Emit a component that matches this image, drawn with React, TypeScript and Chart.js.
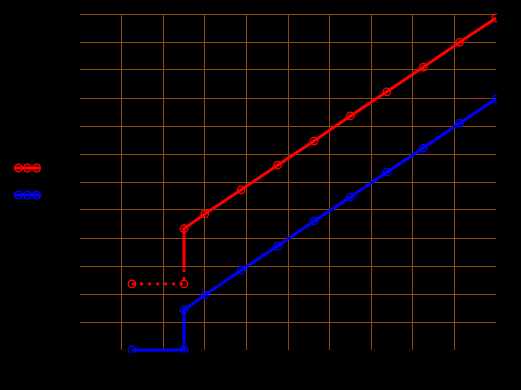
import React, { useEffect, useRef } from "react";
import { Chart, registerables } from "chart.js";

Chart.register(...registerables);

// Red series, dotted lead-in part
const redDottedX = [1.25, 2.5, 2.5];
const redDottedY = [2.36, 2.36, 2.93];
const redDottedMarks = [1, 1, 0];

// Red series, solid part
const redX = [2.5, 2.5, 3, 3.875, 4.75, 5.625, 6.5, 7.375, 8.25, 9.125, 10];
const redY = [2.93, 4.33, 4.86, 5.72, 6.6, 7.46, 8.36, 9.22, 10.1, 10.99, 11.86];
const redMarks = [0, 1, 1, 1, 1, 1, 1, 1, 1, 1, 1];

// Blue series
const blueX = [1.25, 2.5, 2.5, 3, 3.875, 4.75, 5.625, 6.5, 7.375, 8.25, 9.125, 10];
const blueY = [0, 0, 1.43, 1.96, 2.85, 3.71, 4.6, 5.46, 6.35, 7.21, 8.1, 8.96];

// Axes
const xTicks = [0, 1, 2, 3, 4, 5, 6, 7, 8, 9, 10];
const yTicks = [0, 1, 2, 3, 4, 5, 6, 7, 8, 9, 10, 11, 12];

const seriesLabels = ["Series 1", "Series 2"];

const RED = "#ff0000";
const BLUE = "#0000ff";
const GRID = "#8f4a0a";
const CLEAR = "rgba(0,0,0,0)";

const toPts = (xs: number[], ys: number[]) => xs.map((x, i) => ({ x, y: ys[i] }));

const bgPlugin = {
  id: "bg",
  beforeDraw(chart: any) {
    const ctx = chart.ctx;
    ctx.save();
    ctx.fillStyle = "#000000";
    ctx.fillRect(0, 0, chart.width, chart.height);
    ctx.restore();
  },
};

const legendPlugin = {
  id: "sideLegend",
  afterDraw(chart: any) {
    const ctx = chart.ctx;
    const items = [
      { color: RED, y: 168, label: seriesLabels[0] },
      { color: BLUE, y: 195, label: seriesLabels[1] },
    ];
    ctx.save();
    items.forEach((it) => {
      ctx.strokeStyle = it.color;
      ctx.lineWidth = 3;
      ctx.beginPath();
      ctx.moveTo(14, it.y);
      ctx.lineTo(41, it.y);
      ctx.stroke();
      ctx.lineWidth = 1.5;
      [18.5, 27.5, 36.5].forEach((cx) => {
        ctx.beginPath();
        ctx.arc(cx, it.y, 3.7, 0, Math.PI * 2);
        ctx.stroke();
      });
      ctx.fillStyle = "#000000";
      ctx.font = "10px 'DejaVu Sans'";
      ctx.textBaseline = "middle";
      ctx.fillText(it.label, 46, it.y);
    });
    ctx.restore();
  },
};

const clipBox = { left: 6, top: 6, right: 1, bottom: 3 } as any;

export default function App() {
  const ref = useRef<HTMLCanvasElement | null>(null);

  useEffect(() => {
    document.body.style.margin = "0";
    document.body.style.background = "#000000";
    if (!ref.current) return;
    const chart = new Chart(ref.current, {
      type: "line",
      data: {
        datasets: [
          {
            label: seriesLabels[0] + " (lead)",
            data: toPts(redDottedX, redDottedY),
            borderColor: RED,
            backgroundColor: CLEAR,
            borderWidth: 2.8,
            borderDash: [3, 5],
            pointRadius: redDottedMarks.map((m) => (m ? 3.7 : 0)),
            pointBorderWidth: 1.4,
            pointBorderColor: RED,
            pointBackgroundColor: CLEAR,
            fill: false,
            tension: 0,
            clip: clipBox,
          },
          {
            label: seriesLabels[0],
            data: toPts(redX, redY),
            borderColor: RED,
            backgroundColor: CLEAR,
            borderWidth: 3,
            pointRadius: redMarks.map((m) => (m ? 3.7 : 0)),
            pointBorderWidth: 1.4,
            pointBorderColor: RED,
            pointBackgroundColor: CLEAR,
            fill: false,
            tension: 0,
            clip: clipBox,
          },
          {
            label: seriesLabels[1],
            data: toPts(blueX, blueY),
            borderColor: BLUE,
            backgroundColor: CLEAR,
            borderWidth: 3,
            pointRadius: 3.7,
            pointBorderWidth: 1.4,
            pointBorderColor: BLUE,
            pointBackgroundColor: CLEAR,
            fill: false,
            tension: 0,
            clip: clipBox,
          },
        ],
      },
      options: {
        responsive: false,
        animation: false,
        events: [],
        layout: { padding: { left: 0, top: 14, right: 25, bottom: 0 } },
        plugins: {
          legend: { display: false },
          tooltip: { enabled: false },
        },
        scales: {
          x: {
            type: "linear",
            min: xTicks[0],
            max: xTicks[xTicks.length - 1],
            afterBuildTicks: (s: any) => {
              s.ticks = xTicks.map((v) => ({ value: v }));
            },
            afterFit: (s: any) => {
              s.height = 40;
            },
            ticks: { color: "#000000", font: { size: 11 } },
            border: { display: false },
            grid: {
              drawTicks: false,
              lineWidth: 1,
              color: (c: any) =>
                c.index === 0 || c.index === xTicks.length - 1 ? CLEAR : GRID,
            },
          },
          y: {
            type: "linear",
            min: yTicks[0],
            max: yTicks[yTicks.length - 1],
            afterBuildTicks: (s: any) => {
              s.ticks = yTicks.map((v) => ({ value: v }));
            },
            afterFit: (s: any) => {
              s.width = 80;
            },
            ticks: { color: "#000000", font: { size: 11 } },
            border: { display: false },
            grid: {
              drawTicks: false,
              lineWidth: 1,
              color: (c: any) => (c.index === 0 ? CLEAR : GRID),
            },
          },
        },
      },
      plugins: [bgPlugin, legendPlugin],
    });
    return () => chart.destroy();
  }, []);

  return <canvas ref={ref} width={521} height={390} style={{ display: "block" }} />;
}
